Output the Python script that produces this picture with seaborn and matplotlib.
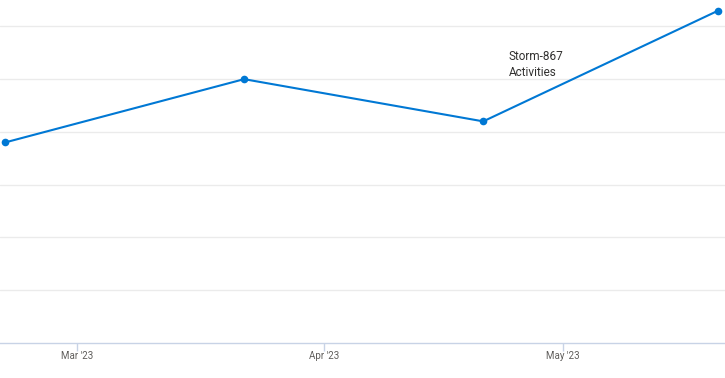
import matplotlib
matplotlib.use("Agg")
import matplotlib.pyplot as plt
import seaborn as sns
import pandas as pd

# Data
dates = ["2023-02-20 00:00", "2023-03-22 00:00", "2023-04-21 00:00", "2023-05-20 12:00"]
values = [38, 50, 42, 63]
annotation_text = "Storm-867\nActivities"
tick_dates = ["2023-03-01", "2023-04-01", "2023-05-01"]
tick_labels = ["Mar '23", "Apr '23", "May '23"]

df = pd.DataFrame({"date": pd.to_datetime(dates, format="%Y-%m-%d %H:%M"), "value": values})

sns.set_theme(style="white")
plt.rcParams['font.family'] = ['Roboto', 'DejaVu Sans']

fig = plt.figure(figsize=(7.25, 3.78), dpi=100)
ax = fig.add_axes([0, 35/378, 1, 343/378])

sns.lineplot(data=df, x="date", y="value", ax=ax, color="#0078d4",
             linewidth=1.5, marker="o", markersize=5.5, markeredgewidth=0,
             clip_on=False, zorder=3)

ax.set_xlim(pd.Timestamp("2023-02-19 09:00"), pd.Timestamp("2023-05-21 08:00"))
ax.set_ylim(0, 65)
ax.set_yticks([10, 20, 30, 40, 50, 60])
ax.yaxis.grid(True, color="#ebebeb", linewidth=1)
ax.set_yticklabels([])
ax.tick_params(axis="y", length=0, left=False)

ax.set_xticks(pd.to_datetime(tick_dates))
ax.set_xticklabels(tick_labels)
ax.tick_params(axis="x", bottom=True, length=6, width=1, color="#c8d3e6",
               labelsize=7, labelcolor="#605e5c", pad=0, direction="out")

for s in ["top", "left", "right"]:
    ax.spines[s].set_visible(False)
ax.spines["bottom"].set_color("#c8d3e6")
ax.spines["bottom"].set_linewidth(1)

ax.set_xlabel("")
ax.set_ylabel("")

ax.text(pd.Timestamp("2023-04-24 04:00"), 55.6, annotation_text, fontsize=8.5,
        color="#323130", va="top", ha="left", linespacing=1.3)

fig.savefig("out.png", dpi=100)
